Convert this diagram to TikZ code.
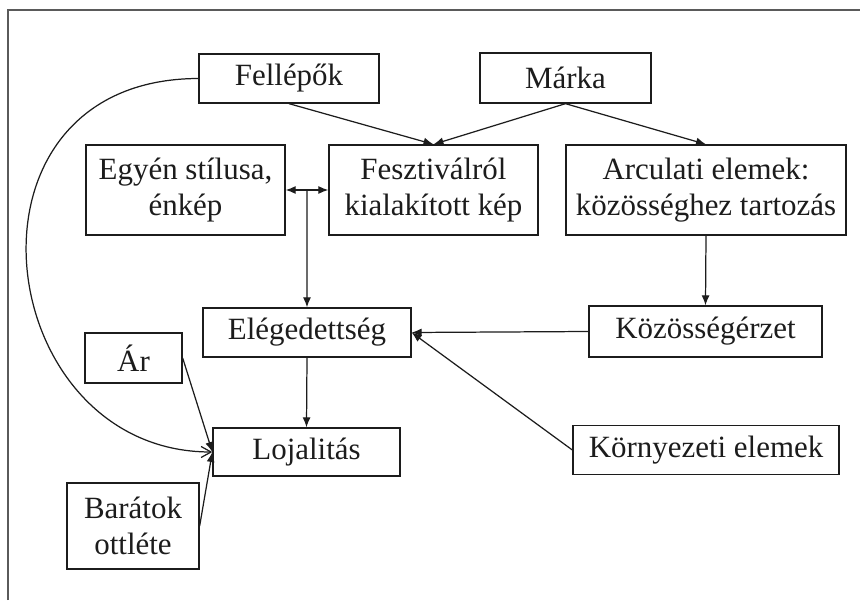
\documentclass[tikz,border=0pt]{standalone}
\usepackage{fontspec}
\setmainfont{Liberation Serif}
\usepackage{tikz}
\usetikzlibrary{arrows.meta,calc}
\definecolor{fsInk}{HTML}{1C1C1C}
\definecolor{fsFrame}{HTML}{5A5A5A}
\tikzset{
  fs diagram/.style={font=\fontsize{17.6}{20.5}\selectfont, text=fsInk,
    line join=miter},
  fs box/.style={draw=fsInk, fill=white, line width=0.75pt,
    align=center, inner sep=2pt},
  fs arrow/.style={-{Latex[length=2mm,width=1.6mm]}, draw=fsInk, line width=0.7pt},
  fs both/.style={fs arrow, {Latex[length=2mm,width=1.6mm]}-{Latex[length=2mm,width=1.6mm]}},
  fs curve/.style={-{Straight Barb[length=2mm,width=2.2mm]}, draw=fsInk, line width=0.7pt},
  fs frame/.style={draw=fsFrame, line width=1pt}
}

\begin{document}
\begin{tikzpicture}[fs diagram]
\useasboundingbox (0,0) rectangle (17.2,12);
\draw[fs frame] (0.16,0) |- (17.2,11.8);
\node[fs box, minimum width=3.6cm, minimum height=0.98cm] (fellepok) at (5.78,10.43) {Fellépők};
\node[fs box, minimum width=3.42cm, minimum height=1cm] (marka) at (11.31,10.44) {Márka};
\node[fs box, minimum width=3.98cm, minimum height=1.8cm] (egyen) at (3.71,8.2) {Egyén stílusa,\\énkép};
\node[fs box, minimum width=4.18cm, minimum height=1.8cm] (kep) at (8.67,8.2) {Fesztiválról\\kialakított kép};
\node[fs box, minimum width=5.6cm, minimum height=1.8cm] (arculat) at (14.12,8.2) {Arculati elemek:\\közösséghez tartozás};
\node[fs box, minimum width=4.16cm, minimum height=0.98cm] (eleg) at (6.14,5.35) {Elégedettség};
\node[fs box, minimum width=4.66cm, minimum height=1.02cm] (kozosseg) at (14.11,5.37) {Közösségérzet};
\node[fs box, minimum width=1.94cm, minimum height=1cm] (ar) at (2.67,4.84) {Ár};
\node[fs box, minimum width=3.74cm, minimum height=0.96cm] (loj) at (6.13,2.96) {Lojalitás};
\node[fs box, minimum width=2.64cm, minimum height=1.72cm] (baratok) at (2.66,1.48) {Barátok\\ottléte};
\node[fs box, minimum width=5.32cm, minimum height=0.98cm] (kornyezet) at (14.12,3) {Környezeti elemek};
\coordinate (mid) at ($(egyen.east)!0.5!(kep.west)$);
\draw[fs both] (egyen.east) -- (kep.west);
\draw[fs arrow] (mid) -- (eleg.north);
\foreach \from/\to in {fellepok/kep,marka/kep,marka/arculat,arculat/kozosseg,eleg/loj}
  \draw[fs arrow] (\from.south) -- (\to.north);
\foreach \from in {kozosseg,kornyezet}
  \draw[fs arrow] (\from.west) -- (eleg.east);
\foreach \from in {ar,baratok}
  \draw[fs arrow] (\from.east) -- (loj.west);
\draw[fs curve] (fellepok.west) .. controls (-1.1,10.42) and (-0.2,2.96) .. (loj.west);
\end{tikzpicture}
\end{document}
